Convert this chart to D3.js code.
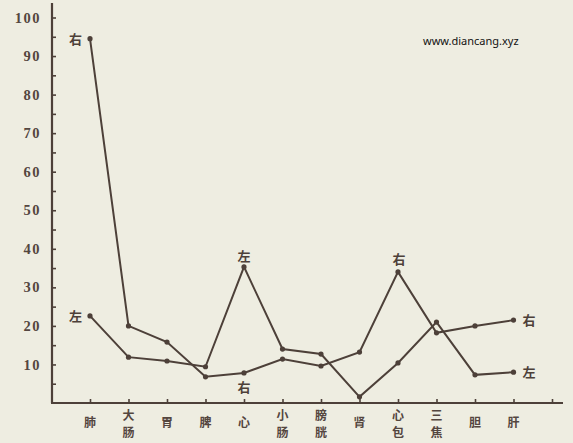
<!DOCTYPE html>
<html><head><meta charset="utf-8">
<script src="https://cdn.jsdelivr.net/npm/d3@7"></script>
<style>
html,body{margin:0;padding:0;background:#eeede1;}
svg{display:block;}
</style></head>
<body>
<svg id="c" width="573" height="443"></svg>
<script>
const categories = ["肺","大肠","胃","脾","心","小肠","膀胱","肾","心包","三焦","胆","肝"];
const rightValues = [94.5, 20, 15.8, 6.8, 7.8, 11.4, 9.6, 13.2, 34, 18.2, 20, 21.5];
const leftValues  = [22.6, 11.9, 10.9, 9.4, 35.3, 14, 12.7, 1.6, 10.4, 21, 7.3, 8];
const yTickValues = [10,20,30,40,50,60,70,80,90,100];
const seriesLabels = {right:"右", left:"左"};

const ink = "#4d4039";
const svg = d3.select("#c");
svg.append("rect").attr("width",573).attr("height",443).attr("fill","#eeede1");

const x = d3.scalePoint().domain(categories.concat(["_end"])).range([90,552]).padding(0);
const y = d3.scaleLinear().domain([0,100]).range([403,17.5]);

// axes lines
svg.append("line").attr("x1",52).attr("x2",52).attr("y1",3).attr("y2",y(0)).attr("stroke",ink).attr("stroke-width",2.2);
svg.append("line").attr("x1",51).attr("x2",563).attr("y1",y(0)).attr("y2",y(0)).attr("stroke",ink).attr("stroke-width",2.2);

// y axis
const yAxis = d3.axisLeft(y).tickValues(d3.range(5,101,5)).tickSize(-4).tickPadding(11)
  .tickFormat(d => yTickValues.includes(d) ? String(d) : "");
const gy = svg.append("g").attr("transform","translate(52,0)").call(yAxis);
gy.select(".domain").remove();
gy.selectAll(".tick line").attr("stroke",ink).attr("stroke-width",1.6);
gy.selectAll(".tick text").attr("fill","#54463f").attr("font-family","Liberation Serif, serif")
  .attr("font-weight","bold").attr("font-size",14.5).style("letter-spacing","1.5px");

// x axis
const xAxis = d3.axisBottom(x).tickSize(-4).tickFormat("");
const gx = svg.append("g").attr("transform",`translate(0,${y(0)})`).call(xAxis);
gx.select(".domain").remove();
gx.selectAll(".tick line").attr("stroke",ink).attr("stroke-width",1.6);

// category labels (vertical stacking, one text per character)
categories.forEach(c => {
  const chars = c.split("");
  const c0 = chars.length === 1 ? 421 : 414;
  chars.forEach((ch,i) => {
    svg.append("text").attr("x",x(c)).attr("y",c0 + i*17.5)
      .attr("text-anchor","middle").attr("dominant-baseline","central")
      .attr("fill","#54463f").attr("font-family","Noto Sans CJK SC").attr("font-weight","bold")
      .attr("font-size",12).text(ch);
  });
});

// lines
const line = d3.line().x((d,i) => x(categories[i])).y(d => y(d));
[rightValues,leftValues].forEach(vals => {
  svg.append("path").datum(vals).attr("d",line).attr("fill","none").attr("stroke",ink).attr("stroke-width",2);
  svg.selectAll(null).data(vals).enter().append("circle")
    .attr("cx",(d,i)=>x(categories[i])).attr("cy",d=>y(d)).attr("r",2.6).attr("fill",ink);
});

// series labels
const labelStyle = t => t.attr("fill","#4d4039").attr("font-family","Noto Sans CJK SC").attr("font-weight","bold").attr("font-size",13);
function addLabel(txt, idx, vals, dx, dy, anchor){
  svg.append("text").attr("x",x(categories[idx])+dx).attr("y",y(vals[idx])+dy)
    .attr("text-anchor",anchor).call(labelStyle).text(txt);
}
addLabel(seriesLabels.right,0,rightValues,-8,5,"end");
addLabel(seriesLabels.left,0,leftValues,-8,5,"end");
addLabel(seriesLabels.left,4,leftValues,0,-6,"middle");
addLabel(seriesLabels.right,4,rightValues,0,19,"middle");
addLabel(seriesLabels.right,8,rightValues,1,-8,"middle");
addLabel(seriesLabels.right,11,rightValues,9,5,"start");
addLabel(seriesLabels.left,11,leftValues,9,5,"start");

// watermark
svg.append("text").attr("x",423).attr("y",45).attr("font-family","Noto Sans, sans-serif")
  .attr("font-size",11).attr("fill","#111").text("www.diancang.xyz");
</script>
</body></html>
